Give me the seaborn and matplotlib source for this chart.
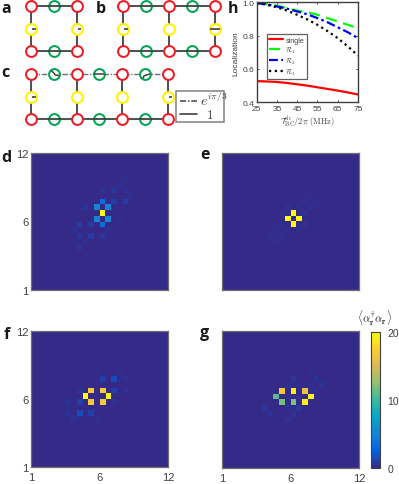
import numpy as np
import pandas as pd
import matplotlib
matplotlib.use("Agg")
import matplotlib.pyplot as plt
from matplotlib.colors import LinearSegmentedColormap
from matplotlib.patches import Rectangle
import seaborn as sns

W, H = 399, 485
sns.set_theme(style="white")
plt.rcParams["font.family"] = ["Liberation Sans", "DejaVu Sans"]
plt.rcParams["mathtext.fontset"] = "cm"

# Localization curves (panel h)
detuning = [25, 30, 35, 40, 45, 50, 55, 60, 65, 70, 75]
loc_single = [0.527, 0.525, 0.522, 0.516, 0.508, 0.500, 0.490, 0.480, 0.470, 0.459, 0.447]
loc_r1 = [0.995, 0.990, 0.980, 0.965, 0.950, 0.940, 0.925, 0.905, 0.885, 0.865, 0.845]
loc_r2 = [0.995, 0.988, 0.975, 0.962, 0.945, 0.928, 0.905, 0.880, 0.850, 0.820, 0.785]
loc_r3 = [0.995, 0.985, 0.970, 0.950, 0.925, 0.897, 0.865, 0.827, 0.785, 0.735, 0.680]

# Heat-map cells: column, row from top, value (half-site grid of 24 x 24)
d_cols = [12, 12, 11, 13, 11, 13, 12, 8, 10, 7, 8, 10, 12, 9, 8, 13, 9, 15, 14, 16, 17, 14, 12, 16, 15, 16]
d_rows = [10, 8, 9, 9, 11, 11, 12, 12, 12, 13, 14, 14, 14, 15, 16, 13, 9, 11, 8, 8, 7, 6, 6, 6, 5, 4]
d_vals = [20, 3.2, 5.0, 5.0, 5.0, 5.0, 3.2, 1.0, 0.8, 0.35, 0.5, 0.8, 0.5, 0.35, 0.5, 0.25, 0.4, 0.3, 0.8, 0.8, 0.3, 0.5, 0.35, 0.35, 0.3, 0.3]

e_cols = [12, 11, 13, 12, 15, 14, 16, 15, 13, 11, 10, 14, 14, 10, 11, 13, 9, 10, 8, 9]
e_rows = [10, 11, 11, 12, 7, 8, 8, 9, 9, 9, 10, 10, 12, 12, 13, 13, 13, 14, 14, 15]
e_vals = [20, 20, 20, 20, 0.3, 0.3, 0.3, 0.35, 0.3, 0.35, 0.3, 0.35, 0.35, 0.25, 0.3, 0.3, 0.3, 0.3, 0.3, 0.3]

f_cols = [9, 13, 10, 12, 10, 12, 12, 14, 16, 11, 15, 14, 16, 8, 6, 8, 14, 6, 8, 10, 7, 11]
f_rows = [11, 11, 10, 10, 12, 12, 8, 8, 8, 7, 7, 10, 10, 10, 12, 12, 12, 14, 14, 14, 15, 15]
f_vals = [20, 20, 17, 17, 17, 17, 1.0, 1.5, 0.35, 0.3, 0.3, 1.0, 0.4, 0.35, 0.4, 1.0, 0.35, 0.4, 1.5, 1.0, 0.4, 0.3]

g_cols = [10, 12, 14, 9, 15, 10, 12, 14, 12, 11, 13, 15, 16, 15, 17, 16, 11, 13, 11, 13, 12, 11, 7, 8]
g_rows = [10, 10, 10, 11, 11, 12, 12, 12, 8, 9, 9, 7, 8, 9, 9, 10, 11, 11, 13, 13, 14, 15, 13, 14]
g_vals = [17, 19, 16, 11, 20, 11.5, 12, 19, 0.5, 0.35, 0.3, 0.3, 0.4, 0.3, 0.4, 0.25, 0.25, 0.25, 0.35, 0.5, 0.5, 0.4, 0.5, 0.4]

heat_ticks = ["1", "6", "12"]
cbar_ticks = [0, 10, 20]

parula = LinearSegmentedColormap.from_list(
    "parula", ["#352a87", "#0363e1", "#1485d4", "#06a7c6", "#38b99e",
               "#92bf73", "#d9ba56", "#fcce2e", "#f9fb0e"])

fig = plt.figure(figsize=(W / 100, H / 100), dpi=100)
TXT = "#404040"
EDGE = "#707070"


def px_axes(x0, y0, x1, y1, **kw):
    return fig.add_axes([x0 / W, 1 - y1 / H, (x1 - x0) / W, (y1 - y0) / H], **kw)


def heat(box, cols, rows, vals, xlab=False, ylab=False):
    ax = px_axes(*box)
    m = np.zeros((24, 24))
    m[rows, cols] = vals
    sns.heatmap(pd.DataFrame(m), ax=ax, cmap=parula, vmin=0, vmax=20, cbar=False,
                square=False, xticklabels=False, yticklabels=False)
    ax.set_xticks([0, 12, 24])
    ax.set_yticks([24, 12, 0])
    ax.set_xticklabels(heat_ticks if xlab else [])
    ax.set_yticklabels(heat_ticks if ylab else [], rotation=0)
    ax.tick_params(axis="both", direction="in", length=1.5, width=0.6, color="#303030",
                   labelsize=8, labelcolor=TXT, top=True, right=True, bottom=True, left=True, pad=2)
    ax.tick_params(axis="x", pad=3.5)
    for s in ax.spines.values():
        s.set_visible(True)
        s.set_color(EDGE)
        s.set_linewidth(0.9)
    return ax


heat((31, 154.3, 168.3, 290.7), d_cols, d_rows, d_vals, ylab=True)
heat((221.8, 153.7, 359.3, 291), e_cols, e_rows, e_vals)
heat((31.3, 331.7, 168.3, 468.3), f_cols, f_rows, f_vals, xlab=True, ylab=True)
heat((222, 331.7, 359.3, 469), g_cols, g_rows, g_vals, xlab=True)

# Colour bar
cax = px_axes(371.3, 333.3, 380.3, 468.7)
sm = plt.cm.ScalarMappable(cmap=parula, norm=plt.Normalize(0, 20))
cb = fig.colorbar(sm, cax=cax, ticks=cbar_ticks)
cb.ax.tick_params(labelsize=7.5, labelcolor=TXT, length=0, pad=5)
cb.outline.set_edgecolor("#404040")
cb.outline.set_linewidth(0.8)
fig.text(374.5 / W, 1 - 318 / H, r"$\langle\alpha_{\mathbf{r}}^{\dagger}\alpha_{\mathbf{r}}\rangle$",
         ha="center", va="center", fontsize=8, color="#202020")

# Panel h
axh = px_axes(256.7, 3.3, 358, 103.3)
df = pd.DataFrame({"x": detuning, "single": loc_single, "R1": loc_r1, "R2": loc_r2, "R3": loc_r3})
sns.lineplot(data=df, x="x", y="single", ax=axh, color="#ff0000", lw=1.6, label="single")
sns.lineplot(data=df, x="x", y="R1", ax=axh, color="#00ff00", lw=1.6, label=r"$\mathcal{R}_1$",
             linestyle=(0, (5, 3)))
sns.lineplot(data=df, x="x", y="R2", ax=axh, color="#0000ff", lw=1.6, label=r"$\mathcal{R}_2$",
             linestyle=(0, (4, 1.5, 1.2, 1.5)))
sns.lineplot(data=df, x="x", y="R3", ax=axh, color="#000000", lw=1.6, label=r"$\mathcal{R}_3$",
             linestyle=(0, (1, 1.6)))
axh.set_xlim(25, 75)
axh.set_ylim(0.4, 1.0)
axh.set_xticks([25, 35, 45, 55, 65, 75])
axh.set_yticks([0.4, 0.6, 0.8, 1.0])
axh.set_yticklabels(["0.4", "0.6", "0.8", "1.0"])
axh.tick_params(axis="both", direction="in", length=1.5, width=0.6, labelsize=6, labelcolor=TXT,
                top=True, right=True, bottom=True, left=True, color="#303030", pad=2)
axh.set_xlabel(r"$\mathcal{T}_{\mathrm{BC}}^{\mathrm{dc}}/2\pi\ \mathrm{(MHz)}$", fontsize=6, color=TXT, labelpad=1)
axh.set_ylabel("Localization", fontsize=6, color=TXT, labelpad=2)
for s in axh.spines.values():
    s.set_visible(True)
    s.set_color("#404040")
    s.set_linewidth(1.0)
leg = axh.legend(loc="upper left", bbox_to_anchor=((266.7 - 256.7) / 101.3, 1 - (35 - 3.3) / 100),
                 fontsize=5.2, frameon=True, fancybox=False, framealpha=1, edgecolor="#606060",
                 borderpad=0.35, labelspacing=0.12, handlelength=1.9, handletextpad=0.35, borderaxespad=0)
leg.get_frame().set_linewidth(0.9)
for t in leg.get_texts():
    t.set_color(TXT)

# Lattice schematics a, b, c (drawn in figure pixel coordinates)
lat = px_axes(0, 0, W, H)
lat.set_xlim(0, W)
lat.set_ylim(H, 0)
lat.axis("off")
lat.set_zorder(5)
lat.patch.set_alpha(0)

RED, GREEN, YEL, LN = "#ed1c24", "#00a651", "#fff200", "#404040"
SP = 22.8


def node(x, y, c):
    lat.plot([x], [y], "o", ms=7.8, mfc="white", mec=c, mew=1.45, zorder=3 if c != RED else 5)


def bar(x0, x1, y):
    lat.plot([x0, x1], [y, y], color=LN, lw=1.2, zorder=6, solid_capstyle="butt")


def lattice(x0, y0, ncell, dashed_top=False, dashes=(), full=(), sy=22.6):
    n = 2 * ncell + 1
    xs = [x0 + i * SP for i in range(n)]
    top, mid, bot = y0, y0 + sy, y0 + 2 * sy
    lat.plot(xs, [bot] * n, color=LN, lw=1.3, zorder=4)
    if dashed_top:
        lat.plot(xs, [top] * n, color="#707070", lw=1.0, zorder=2, linestyle=(0, (4, 1.2, 1, 1.2)))
    else:
        lat.plot(xs, [top] * n, color=LN, lw=1.3, zorder=4)
    for i, x in enumerate(xs):
        if i % 2 == 0:
            lat.plot([x, x], [top, bot], color=LN, lw=1.3, zorder=1)
            node(x, top, RED)
            node(x, bot, RED)
            node(x, mid, YEL)
        else:
            node(x, top, GREEN)
            node(x, bot, GREEN)
    for i in dashes:
        bar(xs[i] + 1, xs[i] + 4.5, mid)
    for i in full:
        bar(xs[i] - 5, xs[i] + 5, mid)
    return xs, top


lattice(31, 7, 1, dashes=(0, 2))
lattice(123.3, 7, 2, dashes=(0,), full=(4,))
xs_c, top_c = lattice(31, 75, 3, dashed_top=True, dashes=(0, 6))
# Phase strokes inside the green sites of the top row of c
lat.plot([xs_c[1] - 2, xs_c[1], xs_c[1] + 1.5, xs_c[1] + 5], [top_c - 3, top_c - 1, top_c + 1, top_c + 1.5],
         color=LN, lw=1.1, zorder=6)
lat.plot([xs_c[3] - 5, xs_c[3] + 5], [top_c, top_c], color=LN, lw=1.1, zorder=6)
lat.plot([xs_c[5] - 2, xs_c[5] - 1, xs_c[5] + 1, xs_c[5] + 5], [top_c + 4, top_c + 2, top_c + 1, top_c],
         color=LN, lw=1.1, zorder=6)

# Legend of panel c
lat.add_patch(Rectangle((176, 92), 48, 30.7, fc="white", ec="#808080", lw=1.1, zorder=7))
lat.plot([179.5, 197], [101.5, 101.5], color=LN, lw=1.1, linestyle=(0, (4, 1.2, 1, 1.2)), zorder=8)
lat.plot([179.5, 197], [115, 115], color=LN, lw=1.2, zorder=8)
lat.text(200.5, 100, r"$e^{i\pi/3}$", fontsize=10, va="center", ha="left", color=TXT, zorder=8)
lat.text(210, 115.5, r"$1$", fontsize=9.5, va="center", ha="center", color=TXT, zorder=8)

# Panel letters
letters = ["a", "b", "c", "d", "e", "f", "g", "h"]
letter_x = [1, 96, 1, 1, 200, 4, 200, 228]
letter_y = [9, 9, 73, 158, 155, 335, 333, 9]
for s, x, y in zip(letters, letter_x, letter_y):
    lat.text(x, y, s, fontsize=11.5, fontweight="bold", family="Open Sans", color="#1a1a1a",
             ha="left", va="center", zorder=9)

fig.savefig("out.png", dpi=100)
